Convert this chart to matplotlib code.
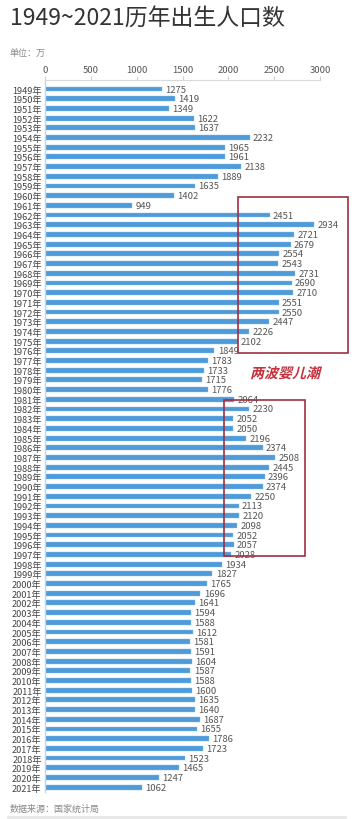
import matplotlib
matplotlib.use("Agg")
import matplotlib.pyplot as plt
from matplotlib.patches import Rectangle, PathPatch
from matplotlib.textpath import TextPath
from matplotlib.font_manager import FontProperties
from matplotlib.transforms import Affine2D

plt.rcParams["font.family"] = ["Noto Sans CJK SC", "DejaVu Sans"]

# 出生人口（万）
years = list(range(1949, 2022))
births = [
    1275, 1419, 1349, 1622, 1637, 2232, 1965, 1961, 2138, 1889,
    1635, 1402, 949, 2451, 2934, 2721, 2679, 2554, 2543, 2731,
    2690, 2710, 2551, 2550, 2447, 2226, 2102, 1849, 1783, 1733,
    1715, 1776, 2064, 2230, 2052, 2050, 2196, 2374, 2508, 2445,
    2396, 2374, 2250, 2113, 2120, 2098, 2052, 2057, 2028, 1934,
    1827, 1765, 1696, 1641, 1594, 1588, 1612, 1581, 1591, 1604,
    1587, 1588, 1600, 1635, 1640, 1687, 1655, 1786, 1723, 1523,
    1465, 1247, 1062,
]
year_labels = [f"{y}年" for y in years]
x_ticks = [0, 500, 1000, 1500, 2000, 2500, 3000]

# two baby-boom boxes: (year_from, year_to, value_from, value_to)
boom_boxes = [(1960, 1976, 2105, 3305), (1981, 1997, 1952, 2835)]

fig = plt.figure(figsize=(3.57, 8.2), dpi=100)
ax = fig.add_axes([45 / 357, 27 / 820, 275 / 357, 712 / 820])

pos = list(range(len(years)))
ax.barh(pos, births, height=0.5, color="#4f9ad8", edgecolor="#8cc0ea", linewidth=0.3)
for p, v in zip(pos, births):
    ax.text(v + 35, p, str(v), va="center", ha="left", fontsize=6.8, color="#555555")

ax.set_ylim(72.5, -0.93)
ax.set_xlim(0, 3000)
ax.set_yticks(pos)
ax.set_yticklabels(year_labels, fontsize=6.6, color="#444444")
ax.set_xticks(x_ticks)
ax.xaxis.tick_top()
ax.tick_params(axis="x", length=3, color="#d0d0d0", labelsize=6.8, labelcolor="#555555", pad=1.5)
ax.tick_params(axis="y", length=0, pad=2.5)

for s in ["right", "bottom"]:
    ax.spines[s].set_visible(False)
ax.spines["top"].set_color("#d9d9d9")
ax.spines["top"].set_linewidth(0.8)
ax.spines["left"].set_color("#bcd8f0")
ax.spines["left"].set_linewidth(1.0)

for y0, y1, v0, v1 in boom_boxes:
    top = years.index(y0) + 0.1
    bot = years.index(y1) + 0.2
    ax.add_patch(Rectangle((v0, top), v1 - v0, bot - top, fill=False,
                           edgecolor="#9e3040", linewidth=1.2, clip_on=False, zorder=5))

# slanted bold annotation (CJK font has no italic, so skew the glyph path)
fp = FontProperties(family="Noto Sans CJK SC", weight="bold")
tp = TextPath((0, 0), "两波婴儿潮", size=14, prop=fp)
tr = Affine2D().skew_deg(14, 0).translate(250, 820 - 379)
fig.add_artist(PathPatch(tr.transform_path(tp), transform=None,
                         facecolor="#c4303c", edgecolor="none"))

fig.text(10 / 357, 1 - 19 / 820, "1949~2021历年出生人口数", ha="left", va="center",
         fontsize=16.5, color="#333333")
fig.text(10 / 357, 1 - 53 / 820, "单位：万", ha="left", va="center",
         fontsize=6.5, color="#888888")
fig.text(10 / 357, 1 - 809 / 820, "数据来源：国家统计局", ha="left", va="center",
         fontsize=6.5, color="#888888")
fig.add_artist(plt.Line2D([8 / 357, 345 / 357], [1 - 818 / 820, 1 - 818 / 820],
                          color="#e6e6e6", linewidth=2))

fig.savefig("out.png", dpi=100)
